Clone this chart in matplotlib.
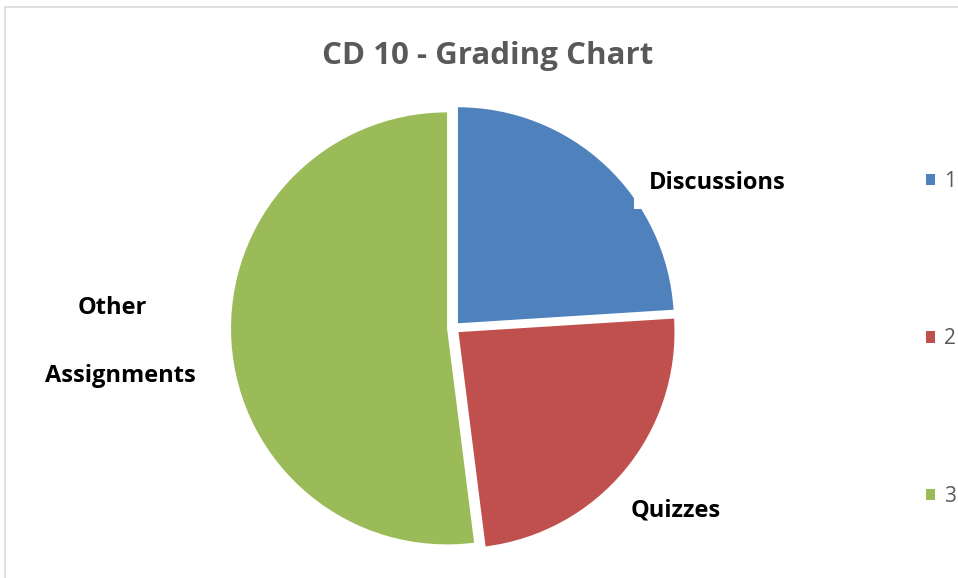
import matplotlib
matplotlib.use("Agg")
import matplotlib.pyplot as plt
from matplotlib.patches import Rectangle

# Data
categories = ["Discussions", "Quizzes", "Other Assignments"]
values = [24, 24, 52]
legend_labels = ["1", "2", "3"]
colors = ["#4F81BD", "#C0504D", "#9BBB59"]
title = "CD 10 - Grading Chart"

W, H = 958, 578
fig = plt.figure(figsize=(W / 100, H / 100), dpi=100)
plt.rcParams['font.family'] = ['Open Sans', 'DejaVu Sans']

# Outer chart frame (light gray)
fig.patches.append(Rectangle((5 / W, -0.5), 1.5, 1.5 - 7 / H, transform=fig.transFigure,
                             fill=False, edgecolor="#D9D9D9", linewidth=1.2, zorder=0))

# Pie axes: centre (453.5, 328) px, radius 216 px
cx, cy, r = 453.5, 328, 216
lim = 1.25
size = 2 * lim * r
ax = fig.add_axes([(cx - size / 2) / W, (H - cy - size / 2) / H, size / W, size / H])
wedges, _ = ax.pie(values, colors=colors, startangle=90, counterclock=False,
                   explode=[0.03, 0.03, 0.03], wedgeprops=dict(linewidth=0))
ax.set_xlim(-lim, lim)
ax.set_ylim(-lim, lim)
ax.set_aspect('equal')

lab_kw = dict(fontsize=17, fontweight='bold', color='black', transform=fig.transFigure,
              va='center')
fig.text(717 / W, 1 - 183 / H, categories[0], ha='center',
         bbox=dict(boxstyle='square,pad=0.6', facecolor='white', edgecolor='none'), **lab_kw)
fig.text(676 / W, 1 - 510 / H, categories[1], ha='center',
         bbox=dict(boxstyle='square,pad=0.6', facecolor='white', edgecolor='none'), **lab_kw)
fig.text(112 / W, 1 - 308 / H, "Other", ha='center', **lab_kw)
fig.text(120 / W, 1 - 376 / H, "Assignments", ha='center', **lab_kw)

fig.text(488 / W, 1 - 56 / H, title, ha='center', va='center', fontsize=22.5,
         fontweight='bold', color='#595959')

leg = fig.legend(wedges, legend_labels, loc='upper left',
                 bbox_to_anchor=(926 / W, 1 - 171 / H), frameon=False,
                 fontsize=15, labelcolor='#595959', handlelength=0.45, handleheight=0.45,
                 handletextpad=0.4, labelspacing=6.55, borderpad=0, borderaxespad=0)

fig.savefig("out.png", dpi=100, facecolor='white')
